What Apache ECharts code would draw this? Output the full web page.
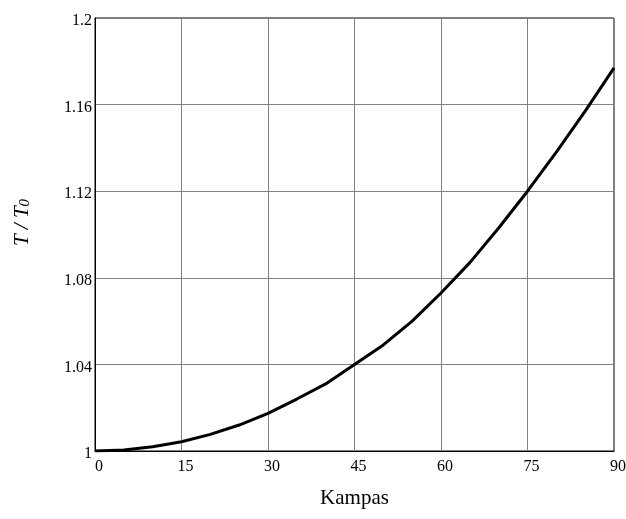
<!DOCTYPE html>
<html>
<head>
<meta charset="utf-8">
<script src="https://cdn.jsdelivr.net/npm/echarts@6/dist/echarts.min.js"></script>
<style>html,body{margin:0;padding:0;background:#fff}#c{width:626px;height:519px}</style>
</head>
<body>
<div id="c"></div>
<script>
var angles = [0, 5, 10, 15, 20, 25, 30, 35, 40, 45, 50, 55, 60, 65, 70, 75, 80, 85, 90];
var ratio = [1.000, 1.0005, 1.002, 1.0043, 1.0077, 1.012, 1.0174, 1.024, 1.031, 1.040, 1.049, 1.060, 1.073, 1.087, 1.103, 1.120, 1.138, 1.157, 1.177];
var xTicks = [0, 15, 30, 45, 60, 75, 90];
var yTicks = [1, 1.04, 1.08, 1.12, 1.16, 1.2];

var chart = echarts.init(document.getElementById('c'), null, {renderer: 'canvas'});
var font = 'Liberation Serif, Times New Roman, serif';
chart.setOption({
  animation: false,
  backgroundColor: '#fff',
  grid: {left: 95, right: 12, top: 18, bottom: 68, show: true, borderColor: '#000', borderWidth: 1,
    backgroundColor: 'transparent', containLabel: false, outerBoundsMode: 'none'},
  xAxis: {
    type: 'value', min: xTicks[0], max: xTicks[xTicks.length - 1], interval: 15,
    name: 'Kampas', nameLocation: 'middle', nameGap: 37,
    nameTextStyle: {fontFamily: font, fontSize: 21, color: '#000'},
    axisLine: {lineStyle: {color: '#000', width: 1}},
    axisTick: {show: false},
    axisLabel: {fontFamily: font, fontSize: 16, color: '#000', margin: 8,
      formatter: function (v) { return '{a|' + v + '}'; },
      rich: {a: {fontFamily: font, fontSize: 16, color: '#000', padding: [0, 0, 0, 8]}}},
    splitLine: {lineStyle: {color: '#808080', width: 1}}
  },
  yAxis: {
    type: 'value', min: yTicks[0], max: yTicks[yTicks.length - 1], interval: 0.04,
    name: '{i|T / T}{s|0}', nameLocation: 'middle', nameGap: 62, nameRotate: 90,
    nameTextStyle: {
      fontFamily: font, color: '#000', padding: [0, 0, 0, 24],
      rich: {
        i: {fontFamily: font, fontSize: 21, fontStyle: 'italic', color: '#000', lineHeight: 26, verticalAlign: 'bottom'},
        s: {fontFamily: font, fontSize: 15, fontStyle: 'italic', color: '#000', lineHeight: 16, verticalAlign: 'bottom'}
      }
    },
    axisLine: {lineStyle: {color: '#000', width: 1}},
    axisTick: {show: false},
    axisLabel: {fontFamily: font, fontSize: 16, color: '#000', margin: 3,
      formatter: function (v) { return '{a|' + String(Math.round(v * 100) / 100) + '}'; },
      rich: {a: {fontFamily: font, fontSize: 16, color: '#000', padding: [6, 0, 0, 0]}}},
    splitLine: {lineStyle: {color: '#808080', width: 1}}
  },
  series: [{
    type: 'line',
    data: angles.map(function (a, i) { return [a, ratio[i]]; }),
    showSymbol: false,
    smooth: false,
    lineStyle: {color: '#000', width: 3},
    clip: true
  }]
});
</script>
</body>
</html>
